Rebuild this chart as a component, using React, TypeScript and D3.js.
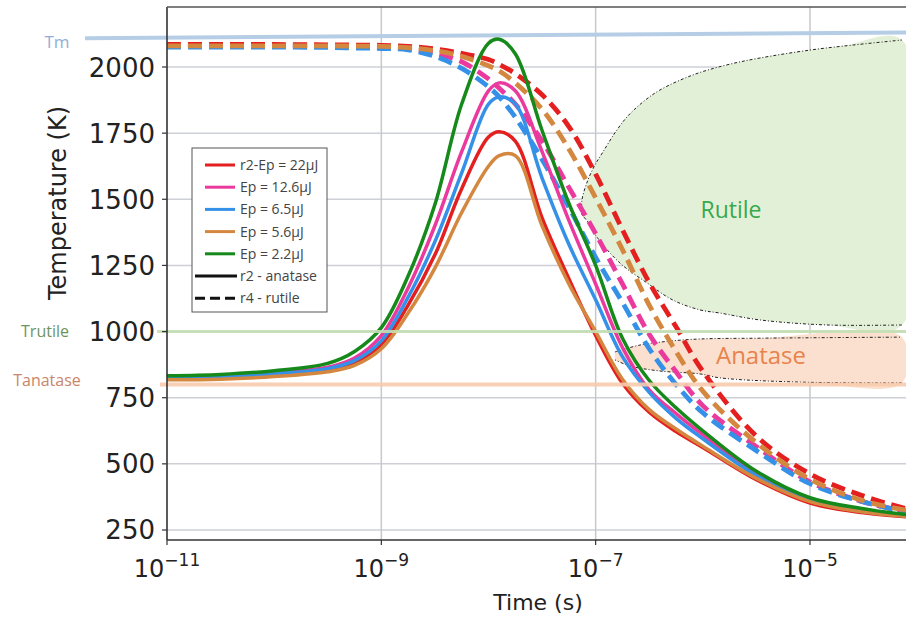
import React from 'react';
import * as d3 from 'd3';

// ---------- data ----------
const logTimes = [-11, -10.5, -10, -9.5, -9.25, -9, -8.75, -8.5, -8.25, -8, -7.9, -7.75, -7.5, -7.25, -7, -6.75, -6.5, -6.25, -6, -5.5, -5, -4.5, -4.1];

// r2 - anatase (solid)
const solidRed = [820, 823, 835, 855, 882, 950, 1100, 1290, 1540, 1735, 1755, 1720, 1430, 1200, 985, 805, 695, 622, 562, 440, 352, 315, 300];
const solidMagenta = [825, 828, 843, 865, 900, 985, 1165, 1400, 1680, 1910, 1940, 1910, 1680, 1420, 1180, 940, 780, 690, 610, 462, 365, 325, 305];
const solidBlue = [822, 826, 840, 860, 890, 965, 1130, 1340, 1600, 1860, 1887, 1860, 1580, 1330, 1120, 905, 770, 672, 595, 456, 360, 320, 303];
const solidOrange = [818, 820, 830, 848, 872, 935, 1070, 1240, 1450, 1625, 1665, 1665, 1400, 1180, 1000, 820, 705, 632, 567, 445, 357, 318, 302];
const solidGreen = [833, 838, 852, 880, 925, 1015, 1210, 1480, 1860, 2090, 2105, 2050, 1760, 1485, 1250, 975, 815, 712, 625, 472, 372, 330, 308];

// r4 - rutile (dashed)
const dashBlue = [2075, 2075, 2075, 2074, 2072, 2070, 2065, 2040, 1995, 1925, 1887, 1810, 1650, 1470, 1280, 1110, 935, 800, 693, 550, 425, 356, 318];
const dashMagenta = [2078, 2078, 2078, 2077, 2076, 2075, 2068, 2052, 2020, 1955, 1920, 1860, 1720, 1545, 1370, 1180, 990, 848, 720, 565, 432, 356, 320];
const dashOrange = [2080, 2080, 2080, 2080, 2079, 2078, 2073, 2062, 2040, 2005, 1985, 1940, 1840, 1690, 1505, 1310, 1100, 925, 775, 580, 442, 360, 325];
const dashRed = [2085, 2085, 2085, 2084, 2083, 2082, 2078, 2068, 2052, 2028, 2010, 1975, 1895, 1775, 1595, 1385, 1185, 1018, 850, 605, 462, 378, 330];

const legendLabels = ['r2-Ep = 22µJ', 'Ep = 12.6µJ', 'Ep = 6.5µJ', 'Ep = 5.6µJ', 'Ep = 2.2µJ'];
const seriesColors = ['#e41f1f', '#ea3a9e', '#3590e8', '#d4873f', '#16891b'];
const styleLabels = ['r2 - anatase', 'r4 - rutile'];

const yTicks = [250, 500, 750, 1000, 1250, 1500, 1750, 2000];
const xTickExps = [-11, -9, -7, -5];

// reference temperatures
const tMelt = [2109, 2130]; // Tm line (left, right)
const tRutile = 1000;
const tAnatase = 800;

// phase regions, [log10 t, T]
const rutileUpper: [number, number][] = [[-7.128, 1441], [-7.128, 1497], [-7.072, 1573], [-7.006, 1630], [-6.932, 1679], [-6.82, 1751], [-6.708, 1811], [-6.558, 1868], [-6.4, 1913], [-6.092, 1970], [-5.775, 2008], [-5.467, 2034], [-5.0, 2064], [-4.692, 2079], [-4.142, 2102]];
const rutileLower: [number, number][] = [[-4.142, 1025], [-4.842, 1025], [-5.467, 1044], [-5.84, 1070], [-6.027, 1082], [-6.279, 1119], [-6.521, 1184], [-6.773, 1259], [-6.988, 1357], [-7.072, 1414], [-7.128, 1441]];
const anataseUpper: [number, number][] = [[-6.82, 923], [-6.587, 949], [-6.307, 964], [-6.027, 972], [-5.467, 975], [-4.142, 979]];
const anataseLower: [number, number][] = [[-4.142, 806], [-5.093, 809], [-5.84, 825], [-6.027, 840], [-6.4, 851], [-6.68, 870], [-6.82, 893]];

// ---------- layout ----------
const W = 906, H = 617;
const L = 167, R = 906, T = 7, B = 540;

export default function App() {
  const x = d3.scaleLog().domain([1e-11, Math.pow(10, -4.104)]).range([L, R]);
  const y = d3.scaleLinear().domain([212.2, 2226.8]).range([B, T]);
  const line = d3.line<[number, number]>().x(d => x(Math.pow(10, d[0]))).y(d => y(d[1])).curve(d3.curveCatmullRom.alpha(0.5));
  const lineRaw = d3.line<[number, number]>().x(d => x(Math.pow(10, d[0]))).y(d => y(d[1])).curve(d3.curveCatmullRom);
  const pts = (arr: number[]) => arr.map((v, i) => [logTimes[i], v] as [number, number]);

  const solids = [solidRed, solidMagenta, solidBlue, solidOrange, solidGreen];
  const dashes = [dashRed, dashMagenta, dashBlue, dashOrange];
  const dashColors = [seriesColors[0], seriesColors[1], seriesColors[2], seriesColors[3]];

  const rutileArea = lineRaw([...rutileUpper, ...rutileLower]) + 'Z';
  const anataseArea = lineRaw([...anataseUpper, ...anataseLower]) + 'Z';

  const axisFont = 'DejaVu Sans, sans-serif';
  const noteFont = 'Open Sans, Liberation Sans, sans-serif';

  return (
    <svg width={W} height={H} style={{ position: 'absolute', left: 0, top: 0, background: '#fff' }}>
      <defs>
        <clipPath id="plot"><rect x={L} y={T} width={R - L} height={B - T} /></clipPath>
      </defs>
      {/* grid */}
      {yTicks.map(t => (
        <line key={'gy' + t} x1={L} x2={R} y1={y(t)} y2={y(t)} stroke="#cdd0d6" strokeWidth={1.5} />
      ))}
      {xTickExps.slice(1).map(e => (
        <line key={'gx' + e} x1={x(Math.pow(10, e))} x2={x(Math.pow(10, e))} y1={T} y2={B} stroke="#c8c8cc" strokeWidth={1.5} />
      ))}
      {/* regions */}
      <g clipPath="url(#plot)">
        <path d={rutileArea} fill="#e3f0d8" />
        <path d={anataseArea} fill="#fbe0cf" />
        <path d={lineRaw(rutileUpper) || ''} fill="none" stroke="#222" strokeWidth={1} strokeDasharray="3 2 1 2" />
        <path d={lineRaw(rutileLower) || ''} fill="none" stroke="#222" strokeWidth={1} strokeDasharray="3 2 1 2" />
        <path d={lineRaw(anataseUpper) || ''} fill="none" stroke="#222" strokeWidth={1} strokeDasharray="3 2 1 2" />
        <path d={lineRaw(anataseLower) || ''} fill="none" stroke="#222" strokeWidth={1} strokeDasharray="3 2 1 2" />
      </g>
      {/* Tm line */}
      <line x1={85} x2={R} y1={y(tMelt[0])} y2={y(tMelt[1])} stroke="#b6cde6" strokeWidth={4} />
      {/* curves */}
      <g clipPath="url(#plot)">
        {dashes.map((s, i) => (
          <path key={'d' + i} d={line(pts(s)) || ''} fill="none" stroke={dashColors[i]} strokeWidth={4.8} strokeDasharray="14 7" />
        ))}
        {solids.map((s, i) => (
          <path key={'s' + i} d={line(pts(s)) || ''} fill="none" stroke={seriesColors[i]} strokeWidth={3.5} />
        ))}
      </g>
      {/* reference lines on top */}
      <line x1={157} x2={R} y1={y(tRutile)} y2={y(tRutile)} stroke="#c5e0b4" strokeWidth={3} opacity={0.9} />
      <line x1={160} x2={R} y1={y(tAnatase)} y2={y(tAnatase)} stroke="#f8cbad" strokeWidth={4} opacity={0.9} />
      {/* region labels */}
      <text x={731} y={218} textAnchor="middle" fontFamily={noteFont} fontSize={23} fill="#3aa84c">Rutile</text>
      <text x={761} y={364} textAnchor="middle" fontFamily={noteFont} fontSize={24} fill="#e8834b">Anatase</text>
      {/* side labels */}
      <text x={57} y={48} textAnchor="middle" fontFamily={noteFont} fontSize={17} fill="#8fb0d8">Tm</text>
      <text x={45} y={337} textAnchor="middle" fontFamily={noteFont} fontSize={16} fill="#6e9462">Trutile</text>
      <text x={47} y={386} textAnchor="middle" fontFamily={noteFont} fontSize={16} fill="#c9866a">Tanatase</text>
      {/* spines */}
      <line x1={L} x2={L} y1={T} y2={B} stroke="#333" strokeWidth={1.6} />
      <line x1={L} x2={R} y1={B} y2={B} stroke="#333" strokeWidth={1.6} />
      <line x1={L} x2={R} y1={T} y2={T} stroke="#555" strokeWidth={1.6} />
      {/* y ticks */}
      {yTicks.map(t => (
        <g key={'yt' + t}>
          <line x1={L - 5} x2={L} y1={y(t)} y2={y(t)} stroke="#333" strokeWidth={1.2} />
          <text x={155} y={y(t) + 9.5} textAnchor="end" fontFamily={axisFont} fontSize={26} fill="#222">{t}</text>
        </g>
      ))}
      {/* x ticks */}
      {xTickExps.map(e => (
        <g key={'xt' + e}>
          <line x1={x(Math.pow(10, e))} x2={x(Math.pow(10, e))} y1={B} y2={B + 5} stroke="#333" strokeWidth={1.2} />
          <text x={x(Math.pow(10, e))} y={577} textAnchor="middle" fontFamily={axisFont} fontSize={24} fill="#222">
            <tspan>10</tspan>
            <tspan dy={-11} fontSize={17}>{'\u2212' + Math.abs(e)}</tspan>
          </text>
        </g>
      ))}
      <text x={538} y={610} textAnchor="middle" fontFamily={axisFont} fontSize={22} fill="#222">Time (s)</text>
      <text transform="translate(66,203) rotate(-90)" textAnchor="middle" fontFamily={axisFont} fontSize={24} fill="#222">Temperature (K)</text>
      {/* legend */}
      <rect x={192} y={148} width={135} height={164} fill="#fff" stroke="#555" strokeWidth={1} />
      {legendLabels.map((lab, i) => (
        <g key={'lg' + i}>
          <line x1={205} x2={235} y1={165 + i * 22.2} y2={165 + i * 22.2} stroke={seriesColors[i]} strokeWidth={3} />
          <text x={240} y={165 + i * 22.2 + 5} fontFamily={noteFont} fontSize={14} fill="#444">{lab}</text>
        </g>
      ))}
      {styleLabels.map((lab, j) => {
        const yy = 165 + (5 + j) * 22.2;
        return (
          <g key={'ls' + j}>
            <line x1={195} x2={237} y1={yy} y2={yy} stroke="#111" strokeWidth={3} strokeDasharray={j === 1 ? '10 5' : undefined} />
            <text x={240} y={yy + 5} fontFamily={noteFont} fontSize={14} fill="#444">{lab}</text>
          </g>
        );
      })}
    </svg>
  );
}
